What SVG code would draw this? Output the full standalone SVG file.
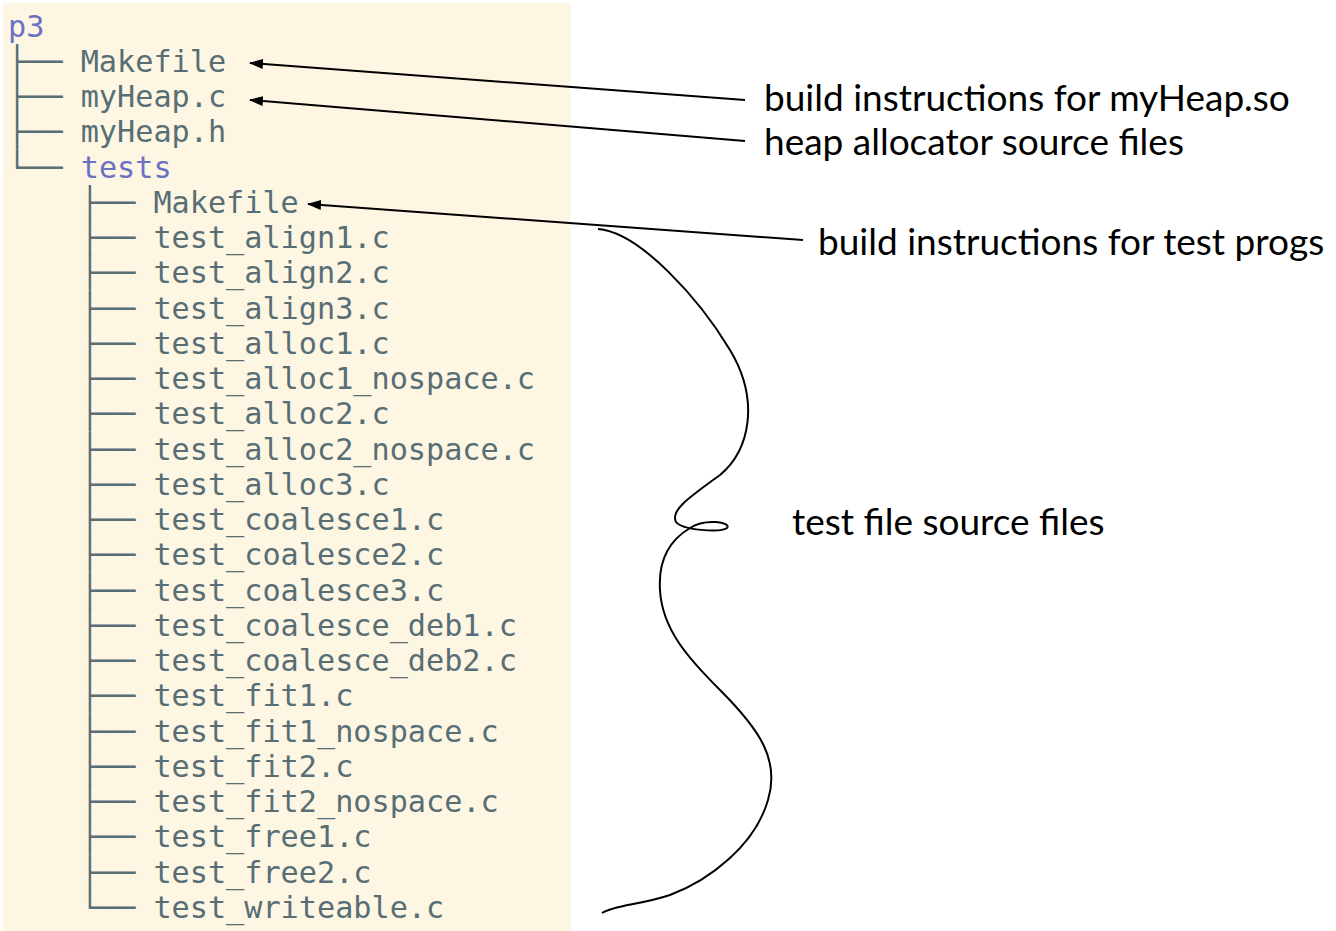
<svg xmlns="http://www.w3.org/2000/svg" width="1336" height="931" viewBox="0 0 1336 931">
  <style>
    .tree { font-family: "DejaVu Sans Mono", "Liberation Mono", monospace; font-size: 30.2px; fill: #586e75; }
    .dir { fill: #6c71c4; }
    .note { font-family: Lato, "Noto Sans", sans-serif; font-size: 37px; fill: #000; }
    .lead { stroke: #000; stroke-width: 2; fill: none; }
  </style>
  <defs>
    <marker id="head" markerUnits="userSpaceOnUse" markerWidth="14" markerHeight="10" refX="13" refY="5" orient="auto">
      <path d="M0,0 L14,5 L0,10 z" fill="#000"/>
    </marker>
  </defs>

  <rect x="0" y="0" width="1336" height="931" fill="#fff"/>
  <!-- terminal panel -->
  <rect x="3" y="3" width="568" height="928" fill="#fdf6e3"/>

  <!-- directory listing; nested rows start four monospace cells in (4 x 18.18px) -->
  <g id="tree" class="tree">
    <g id="n-p3"><text x="8" y="36.5" class="dir">p3</text></g>
    <g id="n-makefile"><text x="8" y="71.75">├── Makefile</text></g>
    <g id="n-myheap-c"><text x="8" y="107">├── myHeap.c</text></g>
    <g id="n-myheap-h"><text x="8" y="142.25">├── myHeap.h</text></g>
    <g id="n-tests"><text x="8" y="177.5">└── <tspan class="dir">tests</tspan></text></g>
    <g id="n-tests-makefile"><text x="80.7" y="212.75">├── Makefile</text></g>
    <g id="n-align1"><text x="80.7" y="248">├── test_align1.c</text></g>
    <g id="n-align2"><text x="80.7" y="283.25">├── test_align2.c</text></g>
    <g id="n-align3"><text x="80.7" y="318.5">├── test_align3.c</text></g>
    <g id="n-alloc1"><text x="80.7" y="353.75">├── test_alloc1.c</text></g>
    <g id="n-alloc1-nospace"><text x="80.7" y="389">├── test_alloc1_nospace.c</text></g>
    <g id="n-alloc2"><text x="80.7" y="424.25">├── test_alloc2.c</text></g>
    <g id="n-alloc2-nospace"><text x="80.7" y="459.5">├── test_alloc2_nospace.c</text></g>
    <g id="n-alloc3"><text x="80.7" y="494.75">├── test_alloc3.c</text></g>
    <g id="n-coalesce1"><text x="80.7" y="530">├── test_coalesce1.c</text></g>
    <g id="n-coalesce2"><text x="80.7" y="565.25">├── test_coalesce2.c</text></g>
    <g id="n-coalesce3"><text x="80.7" y="600.5">├── test_coalesce3.c</text></g>
    <g id="n-coalesce-deb1"><text x="80.7" y="635.75">├── test_coalesce_deb1.c</text></g>
    <g id="n-coalesce-deb2"><text x="80.7" y="671">├── test_coalesce_deb2.c</text></g>
    <g id="n-fit1"><text x="80.7" y="706.25">├── test_fit1.c</text></g>
    <g id="n-fit1-nospace"><text x="80.7" y="741.5">├── test_fit1_nospace.c</text></g>
    <g id="n-fit2"><text x="80.7" y="776.75">├── test_fit2.c</text></g>
    <g id="n-fit2-nospace"><text x="80.7" y="812">├── test_fit2_nospace.c</text></g>
    <g id="n-free1"><text x="80.7" y="847.25">├── test_free1.c</text></g>
    <g id="n-free2"><text x="80.7" y="882.5">├── test_free2.c</text></g>
    <g id="n-writeable"><text x="80.7" y="917.75">└── test_writeable.c</text></g>
  </g>

  <!-- annotations -->
  <g id="note-build-lib"><text class="note" x="764" y="111">build instructions for myHeap.so</text></g>
  <g id="note-heap-src"><text class="note" x="764" y="155">heap allocator source files</text></g>
  <g id="note-build-tests"><text class="note" x="818" y="255">build instructions for test progs</text></g>
  <g id="note-test-src"><text class="note" x="792" y="535">test file source files</text></g>

  <!-- leader lines and brace -->
  <g id="connectors" class="lead">
    <line x1="745" y1="100" x2="250" y2="63" marker-end="url(#head)"/>
    <line x1="745" y1="141" x2="250" y2="100" marker-end="url(#head)"/>
    <line x1="803" y1="240" x2="308" y2="204" marker-end="url(#head)"/>
    <path d="M598,229 C640,232 700,300 730,350 C760,400 750,450 720,475 C690,497 670,510 676,522 C682,530 720,533 727,528 C732,522 705,518 690,528 C670,540 658,560 660,590 C662,630 690,660 720,690 C760,730 780,760 768,800 C755,845 710,880 670,895 C640,905 615,905 602,913"/>
  </g>
</svg>
